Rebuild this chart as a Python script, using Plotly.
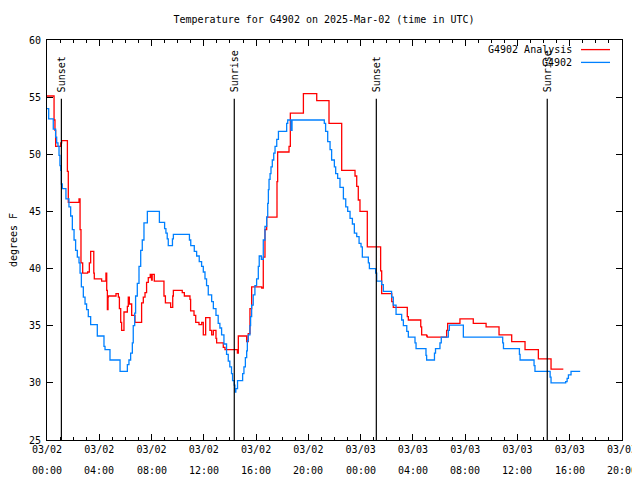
import plotly.graph_objects as go

# ---- data (hours since 2025-03-02 00:00 UTC, degrees F) ----
obs_hours = [0.00, 0.13, 0.48, 0.66, 0.74, 0.84, 0.92, 0.99, 1.05, 1.10, 1.17, 1.45, 1.68, 1.81,
             1.94, 2.07, 2.19, 2.32, 2.45, 2.53, 2.63, 2.78, 2.91, 3.03, 3.16, 3.34, 3.85, 4.36,
             4.44, 4.82, 5.59, 6.15, 6.27, 6.40, 6.53, 6.60, 6.71, 6.78, 6.91, 7.04, 7.17, 7.29,
             7.42, 7.68, 8.60, 9.00, 9.10, 9.20, 9.28, 9.60, 9.67, 10.90, 11.00, 11.27, 11.45,
             11.65, 11.83, 11.96, 12.09, 12.21, 12.34, 12.60, 12.73, 12.93, 13.10, 13.23, 13.36,
             13.54, 13.74, 13.87, 13.99, 14.12, 14.20, 14.33, 14.38, 14.45, 14.58, 14.97, 15.07,
             15.18, 15.28, 15.33, 15.40, 15.53, 15.58, 15.66, 15.78, 15.91, 16.04, 16.17, 16.24,
             16.40, 16.55, 16.68, 16.81, 16.89, 16.94, 16.99, 17.07, 17.14, 17.24, 17.35, 17.45,
             17.58, 17.71, 18.34, 18.42, 18.67, 18.75, 21.22, 21.32, 21.48, 21.66, 21.78, 21.99,
             22.09, 22.24, 22.42, 22.68, 22.86, 23.01, 23.19, 23.37, 23.52, 23.70, 23.88, 24.03,
             24.13, 24.59, 24.67, 25.15, 25.23, 25.61, 25.74, 26.37, 26.50, 26.71, 27.14, 27.27,
             27.53, 27.65, 28.16, 28.24, 29.00, 29.05, 29.65, 29.73, 30.07, 30.17, 30.71, 30.79,
             31.86, 34.87, 34.93, 36.15, 36.20, 37.27, 37.34, 38.50, 38.57, 39.69, 39.80, 39.90,
             40.10, 40.80]
obs_temp = [54.0, 53.1, 52.2, 51.5, 51.0, 50.7, 49.9, 49.0, 48.6, 47.4, 47.0, 46.1, 45.4, 44.6,
            43.4, 42.5, 41.6, 41.0, 40.5, 39.6, 38.4, 37.5, 36.9, 36.4, 35.8, 35.1, 34.1, 33.2,
            32.9, 32.0, 31.0, 31.6, 32.0, 32.6, 33.5, 35.0, 36.1, 37.6, 38.7, 40.2, 41.6, 42.5,
            44.0, 45.0, 44.05, 43.5, 43.1, 42.6, 42.0, 42.6, 43.0, 42.5, 42.0, 41.5, 41.1,
            40.6, 40.2, 39.7, 39.1, 38.5, 37.7, 37.1, 36.5, 35.9, 35.2, 34.8, 34.2,
            33.4, 32.5, 31.9, 31.4, 30.8, 30.2, 29.8, 29.2, 29.5, 30.2, 30.8, 31.4,
            32.2, 32.8, 33.7, 34.2, 35.0, 35.8, 36.8, 37.7, 38.5, 39.1, 40.2, 41.1,
            40.8, 42.5, 43.7, 44.5, 45.7, 46.9, 47.8, 48.3, 48.9, 49.5, 50.1, 50.7,
            51.3, 52.0, 52.7, 53.0, 52.1, 53.0, 52.7, 52.0, 51.1, 50.4, 49.5, 48.9,
            48.3, 47.9, 47.1, 46.1, 45.4, 45.0, 44.4, 43.9, 43.1, 42.8, 42.2, 41.9,
            41.0, 40.5, 40.0, 39.6, 38.9, 38.6, 38.0, 37.5, 36.8, 36.0, 35.5, 35.0,
            34.5, 34.0, 33.5, 33.0, 32.4, 32.0, 32.6, 33.0, 33.5, 34.0, 34.6, 35.05,
            34.0, 33.5, 33.0, 32.5, 32.0, 31.5, 31.0, 30.5, 30.0, 30.1, 30.4, 30.7,
            31.0, 31.0]

ana_hours = [0.00, 0.54, 0.61, 0.66, 1.05, 1.12, 1.56, 1.63, 2.45, 2.53, 2.60, 2.73, 3.11, 3.24,
             3.34, 3.58, 3.62, 4.18, 4.51, 4.57, 4.62, 4.67, 4.70, 5.28, 5.46, 5.54, 5.64, 5.71,
             5.89, 6.15, 6.22, 6.30, 6.48, 6.73, 7.24, 7.37, 7.50, 7.62, 7.75, 7.90, 8.00, 8.05,
             8.21, 8.95, 9.06, 9.46, 9.62, 9.67, 10.35, 10.51, 10.94, 10.99, 11.25, 11.38, 11.63,
             11.84, 11.96, 12.14, 12.47, 12.60, 12.73, 12.93, 12.98, 13.49, 13.62, 14.57, 14.64,
             15.28, 15.40, 15.53, 15.66, 16.43, 16.55, 16.68, 16.81, 17.60, 17.65, 18.52, 18.62,
             19.62, 20.64, 21.58, 22.55, 23.57, 23.70, 23.82, 23.95, 24.51, 25.53, 25.61, 26.38,
             26.50, 27.57, 27.65, 28.60, 28.67, 29.05, 29.10, 30.58, 30.66, 31.60, 32.62, 33.60,
             34.59, 35.56, 36.58, 37.60, 38.57, 39.51]
ana_temp = [55.1, 53.0, 52.1, 50.7, 51.0, 51.2, 48.5, 45.8, 46.1, 43.4, 40.5, 39.6, 39.7, 40.5,
            41.5, 39.6, 39.1, 38.9, 39.6, 38.1, 36.4, 37.5, 37.6, 37.8, 37.5, 36.5, 35.3, 34.6,
            36.2, 36.7, 37.5, 36.9, 35.9, 35.3, 37.0, 37.5, 37.9, 38.8, 39.2, 39.5, 39.0, 39.5,
            38.9, 37.6, 37.0, 36.6, 37.6, 38.1, 37.9, 37.6, 37.3, 36.3, 35.9, 35.3, 35.1,
            35.3, 34.2, 35.7, 34.6, 34.2, 34.6, 33.9, 33.5, 33.1, 32.9, 32.6, 34.1,
            33.6, 34.3, 36.5, 38.4, 38.3, 41.0, 43.4, 44.5, 47.6, 50.2, 50.7, 53.6,
            55.3, 54.7, 52.7, 48.6, 48.1, 47.2, 46.0, 45.0, 41.9, 39.8, 37.8, 37.1,
            36.6, 35.8, 35.5, 34.9, 34.2, 34.1, 34.0, 34.6, 35.2, 35.6, 35.2, 34.9,
            34.2, 33.6, 32.9, 32.1, 31.2, 31.2]

event_hours = [1.10, 14.33, 25.20, 38.28]
event_labels = ["Sunset", "Sunrise", "Sunset", "Sunrise"]

tick_hours = [0, 4, 8, 12, 16, 20, 24, 28, 32, 36, 40, 44]
tick_dates = ["03/02"] * 6 + ["03/03"] * 6
tick_times = ["00:00", "04:00", "08:00", "12:00", "16:00", "20:00"] * 2

series_names = ["G4902 Analysis", "G4902"]
series_colors = ["#ff0000", "#0080ff"]

FONT = "DejaVu Sans Mono"
W, H = 632, 472   # page body has an 8px margin

fig = go.Figure()
fig.add_trace(go.Scatter(x=ana_hours, y=ana_temp, mode="lines", line_shape="hv",
                         line=dict(color=series_colors[0], width=1.3), name=series_names[0],
                         showlegend=False))
fig.add_trace(go.Scatter(x=obs_hours, y=obs_temp, mode="lines", line_shape="hv",
                         line=dict(color=series_colors[1], width=1.3), name=series_names[1],
                         showlegend=False))

shapes = []
annotations = []
for h, lab in zip(event_hours, event_labels):
    shapes.append(dict(type="line", xref="x", yref="paper", x0=h, x1=h, y0=0, y1=0.853,
                       line=dict(color="black", width=1.2), layer="above"))
    annotations.append(dict(x=h, y=0.865, xref="x", yref="paper", text=lab, textangle=-90,
                            showarrow=False, xanchor="center", yanchor="bottom",
                            font=dict(family=FONT, size=10, color="black")))

for h, t in zip(tick_hours, tick_times):
    annotations.append(dict(x=h, y=-0.075, xref="x", yref="paper", text=t, showarrow=False,
                            xanchor="center", yanchor="middle",
                            font=dict(family=FONT, size=10, color="black")))

# custom legend (text left, line sample right)
leg_y = [0.976, 0.944]
for name, col, yy in zip(series_names, series_colors, leg_y):
    annotations.append(dict(x=0.9165, y=yy, xref="paper", yref="paper", text=name,
                            showarrow=False, xanchor="right", yanchor="middle",
                            font=dict(family=FONT, size=10, color="black")))
    shapes.append(dict(type="line", xref="paper", yref="paper", x0=0.9287, x1=0.9791,
                       y0=yy, y1=yy, line=dict(color=col, width=1.3)))

fig.update_layout(
    width=W, height=H,
    margin=dict(l=39, r=18, t=32, b=40, autoexpand=False),
    paper_bgcolor="white", plot_bgcolor="white",
    font=dict(family=FONT, size=10, color="black"),
    title=dict(text="Temperature for G4902 on 2025-Mar-02 (time in UTC)", x=0.5, xanchor="center",
               y=1 - 11 / H, yanchor="middle", font=dict(family=FONT, size=10, color="black")),
    shapes=shapes, annotations=annotations,
    xaxis=dict(range=[0, 44], tickvals=tick_hours, ticktext=tick_dates, ticks="inside",
               ticklen=6, tickcolor="black", showline=True, linecolor="black", linewidth=1,
               mirror="allticks", showgrid=False, zeroline=False, automargin=False,
               minor=dict(dtick=1, ticks="inside", ticklen=3, tickcolor="black", showgrid=False),
               tickfont=dict(family=FONT, size=10, color="black")),
    yaxis=dict(range=[25, 60], dtick=5, tick0=25, ticks="inside", ticklen=6, tickcolor="black",
               showline=True, linecolor="black", linewidth=1, mirror="allticks",
               showgrid=False, zeroline=False, automargin=False, ticklabelstandoff=3,
               title=dict(text="degrees F", font=dict(family=FONT, size=10, color="black"),
                          standoff=20),
               tickfont=dict(family=FONT, size=10, color="black")),
)

fig.write_html("out.html")
